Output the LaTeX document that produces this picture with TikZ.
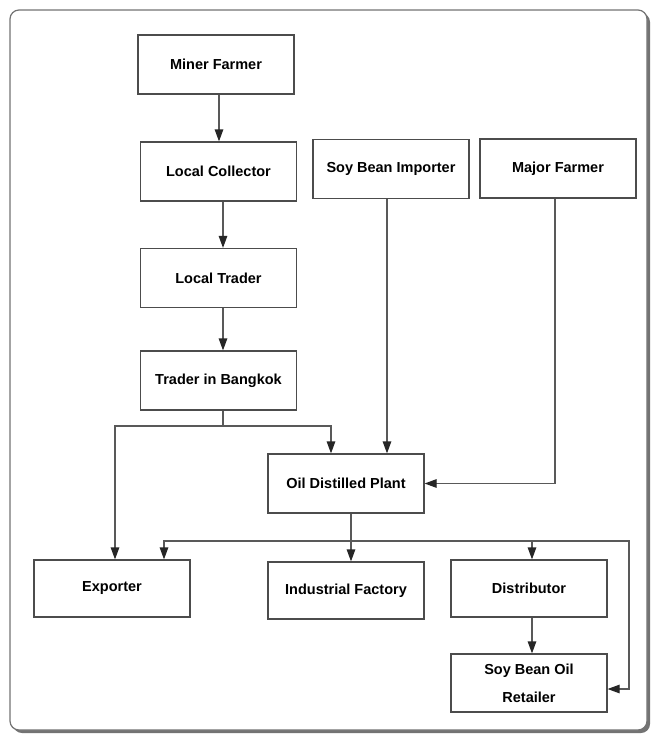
\documentclass[tikz,border=0pt]{standalone}
\usepackage{fontspec}
\setmainfont{Liberation Sans}
\usetikzlibrary{arrows.meta}
\begin{document}
\begin{tikzpicture}[x=1pt,y=-1pt,
  box/.style={draw=black!70, line width=1.2pt, fill=white,
    minimum width=156pt, minimum height=59pt, inner sep=0pt,
    font=\fontsize{14.5}{28}\selectfont\bfseries, align=center},
  link/.style={draw=black!65, line width=1.2pt},
  arr/.style={link, -{Triangle[length=12pt,width=8.5pt,color=black!85]}}]
\useasboundingbox (0,0) rectangle (653,740);
% frame with drop shadow
\fill[black!55, rounded corners=9pt] (13,13) rectangle (650,733);
\draw[black!55, fill=white, line width=1.2pt, rounded corners=9pt] (10,10) rectangle (647,730);

% boxes
\node[box] (mf)   at (216,64.5)  {Miner Farmer};
\node[box] (lc)   at (218.5,171.5) {Local Collector};
\node[box] (sbi)  at (391,169)   {Soy Bean Importer};
\node[box] (maj)  at (558,168.5) {Major Farmer};
\node[box] (lt)   at (218.5,278) {Local Trader};
\node[box] (tb)   at (218.5,380.5) {Trader in Bangkok};
\node[box] (odp)  at (346,483.5) {Oil Distilled Plant};
\node[box, minimum height=57pt] (exp)  at (112,588.5) {Exporter};
\node[box, minimum height=57pt] (ind)  at (346,590.5) {Industrial Factory};
\node[box, minimum height=57pt] (dist) at (529,588.5) {Distributor};
\node[box, minimum height=58pt] (ret)  at (529,683)   {Soy Bean Oil\\Retailer};

% routing points
\coordinate (spine) at (223,0);
\coordinate (tbsplit) at (223,426);
\coordinate (bus) at (351,541);
\coordinate (busend) at (629,541);

% left chain
\draw[arr] ([xshift=3pt]mf.south) -- ([xshift=3pt]mf.south |- lc.north);
\draw[arr] (lc.south -| spine) -- (lt.north -| spine);
\draw[arr] (lt.south -| spine) -- (tb.north -| spine);
\draw[link] (tb.south -| spine) -- (tbsplit);
\draw[arr] (tbsplit) -| ([xshift=3pt]exp.north);
\draw[arr] (tbsplit) -| ([xshift=-15pt]odp.north);

% suppliers into the plant
\draw[arr] ([xshift=-4pt]sbi.south) -- ([xshift=-4pt]sbi.south |- odp.north);
\draw[arr] ([xshift=-3pt]maj.south) |- (odp.east);

% plant outputs
\draw[arr] ([xshift=5pt]odp.south) -- ([xshift=5pt]odp.south |- ind.north);
\draw[arr] (bus) -| ([xshift=52pt]exp.north);
\draw[arr] (bus) -| ([xshift=3pt]dist.north);
\draw[arr] (bus) -- (busend) |- ([yshift=-6pt]ret.east);
\draw[arr] ([xshift=3pt]dist.south) -- ([xshift=3pt]dist.south |- ret.north);
\end{tikzpicture}
\end{document}
